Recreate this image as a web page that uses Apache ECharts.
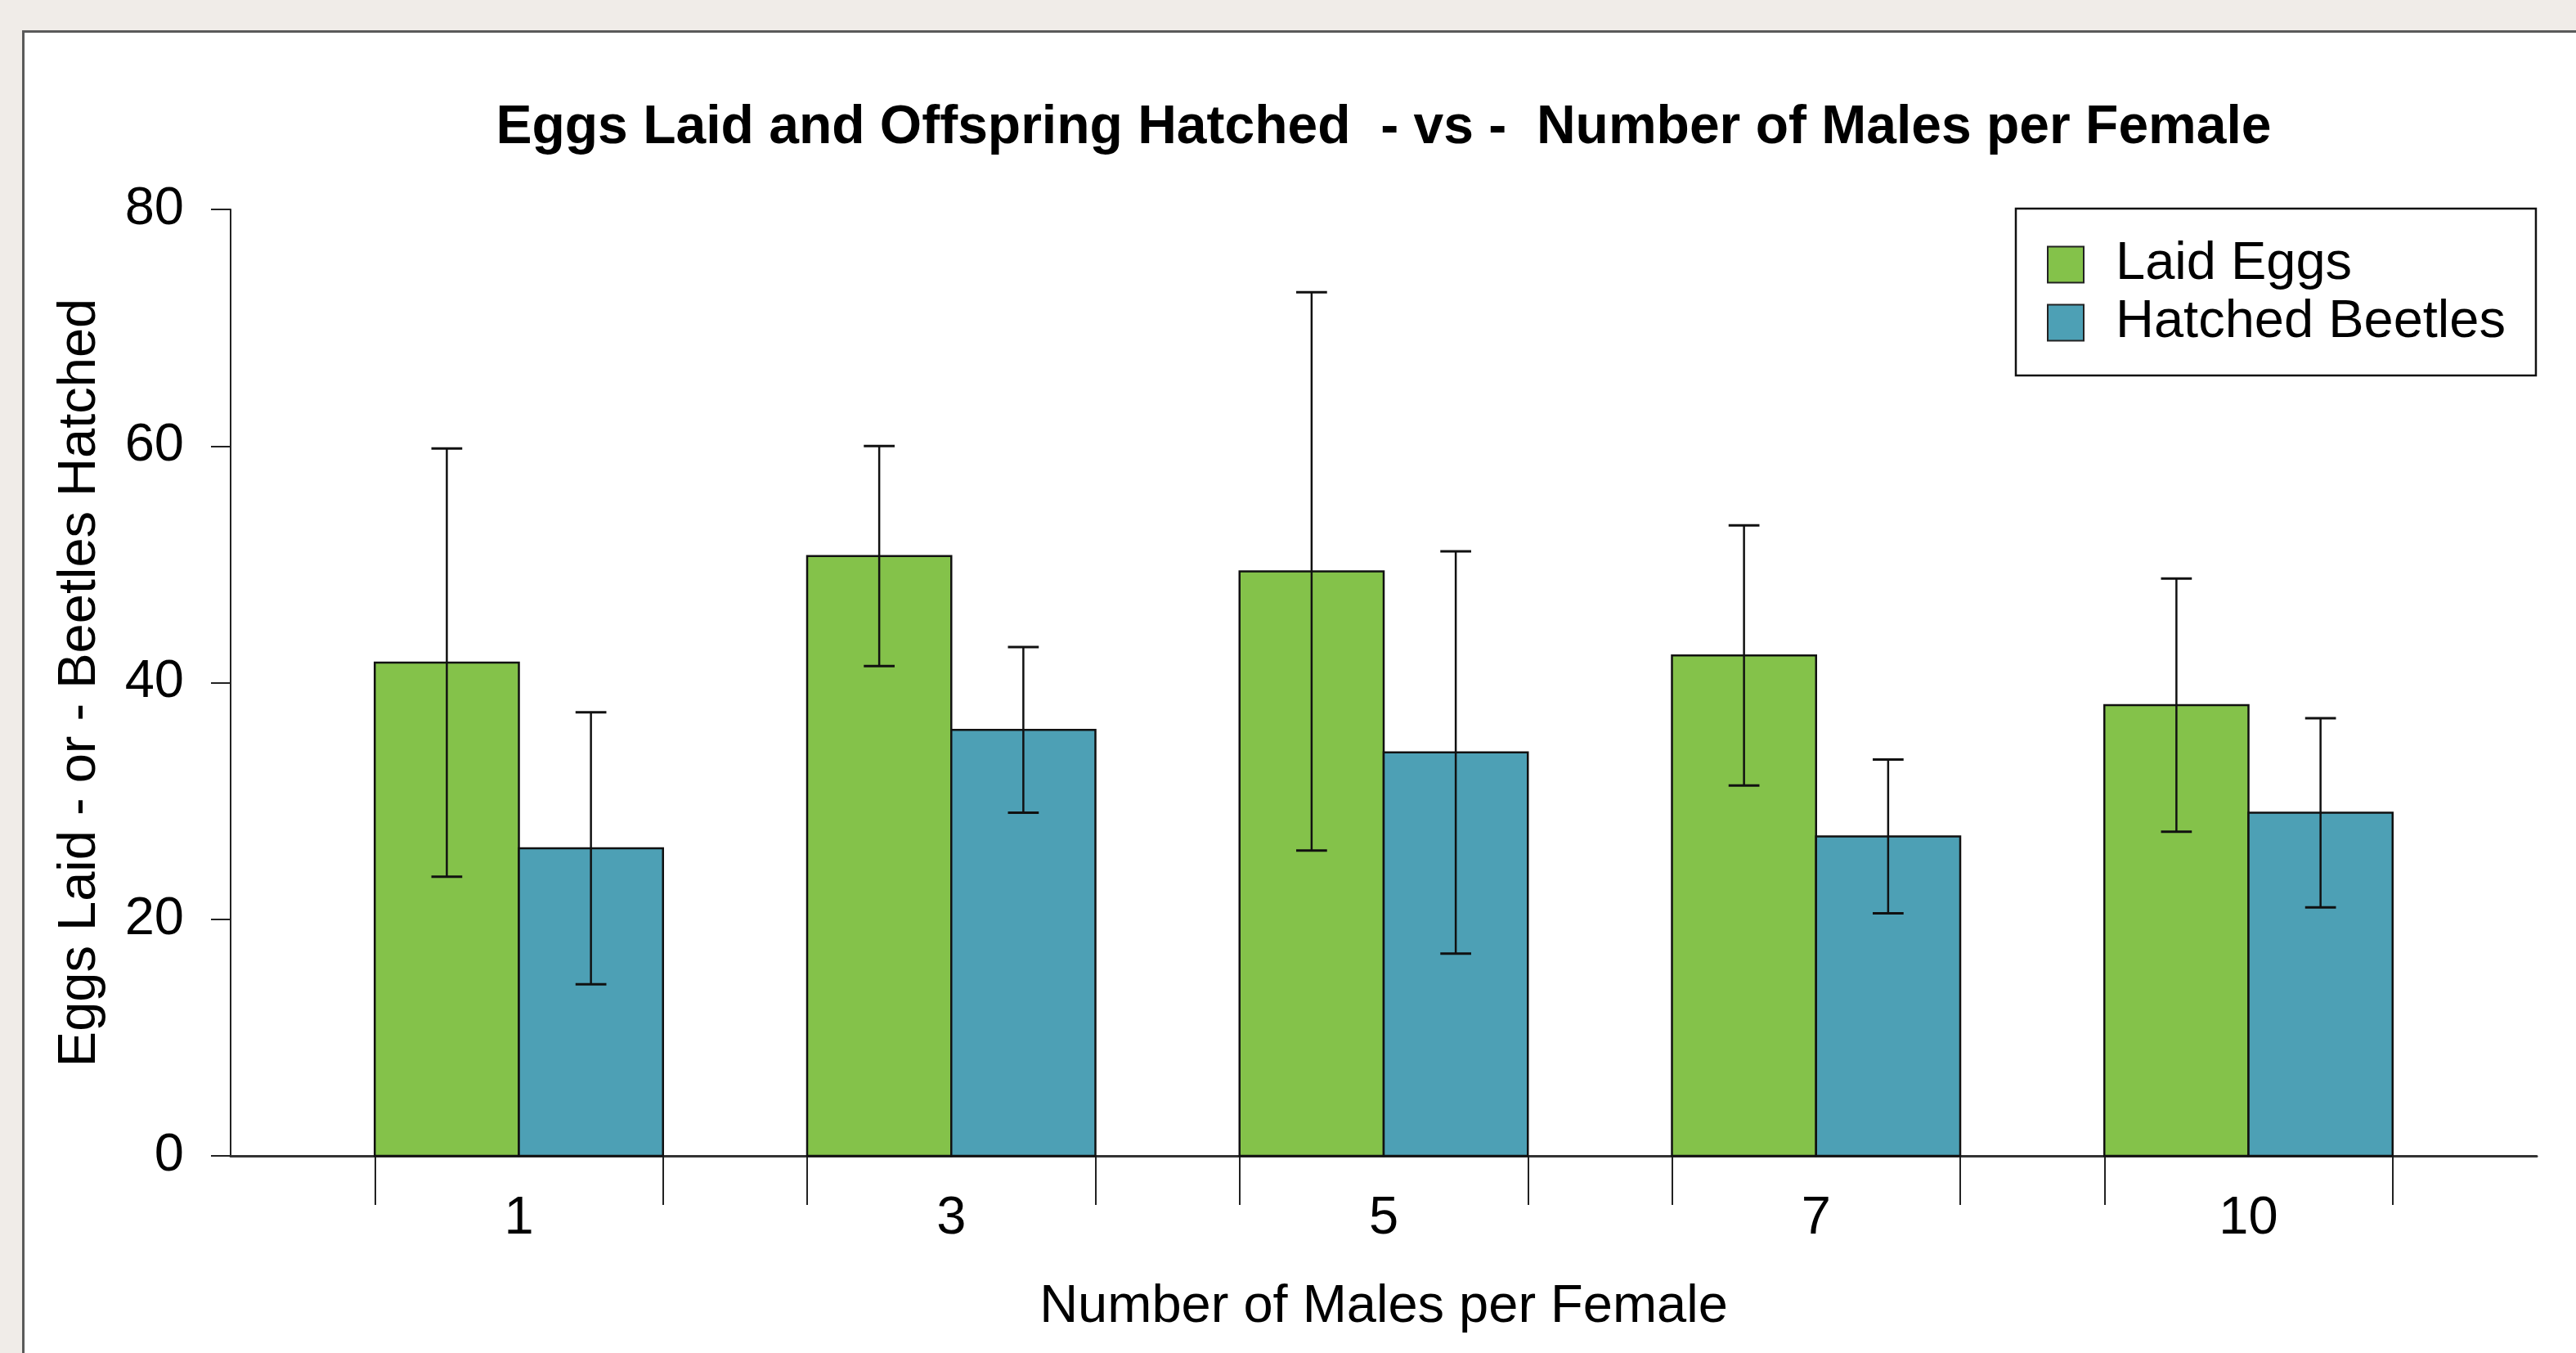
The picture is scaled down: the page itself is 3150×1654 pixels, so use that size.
<!DOCTYPE html>
<html>
<head>
<meta charset="utf-8">
<title>Eggs Laid and Offspring Hatched</title>
<script src="https://cdn.jsdelivr.net/npm/echarts@6/dist/echarts.min.js"></script>
<style>
  html, body { margin: 0; padding: 0; background: #f0ece8; }
  #chart { width: 3150px; height: 1654px; }
</style>
</head>
<body>
<div id="chart"></div>
<script>
// Number of males per female (treatment groups)
const categories = ['1', '3', '5', '7', '10'];
// Mean eggs laid and its standard deviation
const laidEggs = [41.7, 50.7, 49.4, 42.3, 38.1];
const laidEggsSd = [18.1, 9.3, 23.6, 11.0, 10.7];
// Mean beetles hatched and its standard deviation
const hatchedBeetles = [26.0, 36.0, 34.1, 27.0, 29.0];
const hatchedBeetlesSd = [11.5, 7.0, 17.0, 6.5, 8.0];
// Y axis ticks
const yTicks = [0, 20, 40, 60, 80];

const FONT = '"Liberation Sans", Arial, Helvetica, sans-serif';
const GREEN = '#84c24a';
const BLUE = '#4da0b5';
const INK = '#111111';

// Grouped barplot layout: each group is two unit-wide bars preceded by a one-unit gap
const centers = categories.map((c, i) => 3 * i + 2);
const edges = [];
centers.forEach(c => { edges.push(c - 1, c + 1); });

const gridLeft = 282, gridRight = 48, gridTop = 256, gridBottom = 241;
const plotCenterX = (gridLeft + (3150 - gridRight)) / 2;

function barWithError(offset) {
  return function (params, api) {
    const c = api.value(0), v = api.value(1), sd = api.value(2);
    const left = c + offset, right = left + 1, mid = left + 0.5;
    const tl = api.coord([left, v]);
    const br = api.coord([right, 0]);
    const hi = api.coord([mid, v + sd]);
    const lo = api.coord([mid, v - sd]);
    const capHalf = api.size([0.107, 0])[0];
    const fill = api.visual('color');
    return {
      type: 'group',
      children: [
        { type: 'rect', shape: { x: tl[0], y: tl[1], width: br[0] - tl[0], height: br[1] - tl[1] },
          style: { fill: fill, stroke: INK, lineWidth: 2.5 } },
        { type: 'line', shape: { x1: hi[0], y1: hi[1], x2: lo[0], y2: lo[1] },
          style: { stroke: INK, lineWidth: 2.5 } },
        { type: 'line', shape: { x1: hi[0] - capHalf, y1: hi[1], x2: hi[0] + capHalf, y2: hi[1] },
          style: { stroke: INK, lineWidth: 3 } },
        { type: 'line', shape: { x1: lo[0] - capHalf, y1: lo[1], x2: lo[0] + capHalf, y2: lo[1] },
          style: { stroke: INK, lineWidth: 3 } }
      ]
    };
  };
}

const chart = echarts.init(document.getElementById('chart'), null, { renderer: 'canvas' });

chart.setOption({
  animation: false,
  backgroundColor: '#f0ece8',
  textStyle: { fontFamily: FONT },
  graphic: [
    { type: 'rect', z: -10, silent: true,
      shape: { x: 28.5, y: 38.5, width: 3200, height: 1700 },
      style: { fill: '#ffffff', stroke: '#5a5a5a', lineWidth: 3 } }
  ],
  title: {
    text: 'Eggs Laid and Offspring Hatched  - vs -  Number of Males per Female',
    left: plotCenterX, top: 124, textAlign: 'center', padding: 0,
    textStyle: { fontSize: 66, fontWeight: 'bold', color: '#000', fontFamily: FONT }
  },
  legend: {
    orient: 'vertical', left: 2465, top: 255,
    padding: [36, 37, 32, 38],
    itemWidth: 44, itemHeight: 44, itemGap: 6, icon: 'rect',
    selectedMode: false,
    backgroundColor: '#ffffff', borderColor: INK, borderWidth: 2.5, borderRadius: 0,
    itemStyle: { borderColor: '#222', borderWidth: 2 },
    textStyle: { fontSize: 65, color: '#000', fontFamily: FONT, padding: [0, 0, 0, 34] },
    data: ['Laid Eggs', 'Hatched Beetles']
  },
  grid: { left: gridLeft, right: gridRight, top: gridTop, bottom: gridBottom, containLabel: false },
  xAxis: {
    type: 'value', min: 0, max: 16,
    name: 'Number of Males per Female', nameLocation: 'middle', nameGap: 153,
    nameTextStyle: { fontSize: 65, color: '#000', fontFamily: FONT },
    axisLine: { show: true, onZero: false, lineStyle: { color: '#333', width: 3 } },
    axisTick: { show: true, inside: false, length: 60, customValues: edges, lineStyle: { color: '#222', width: 2 } },
    axisLabel: {
      show: true, margin: 45, fontSize: 65, color: '#000', fontFamily: FONT,
      customValues: centers,
      formatter: v => categories[centers.indexOf(v)]
    },
    splitLine: { show: false }
  },
  yAxis: {
    type: 'value', min: yTicks[0], max: yTicks[yTicks.length - 1], interval: yTicks[1] - yTicks[0],
    name: 'Eggs Laid - or - Beetles Hatched', nameLocation: 'middle', nameGap: 151,
    nameTextStyle: { fontSize: 65, color: '#000', fontFamily: FONT },
    axisLine: { show: true, onZero: false, lineStyle: { color: '#222', width: 2 } },
    axisTick: { show: true, inside: false, length: 24, lineStyle: { color: '#222', width: 2 } },
    axisLabel: { margin: 57, fontSize: 65, color: '#000', fontFamily: FONT, padding: [8, 0, 0, 0] },
    splitLine: { show: false }
  },
  series: [
    {
      name: 'Laid Eggs', type: 'custom',
      itemStyle: { color: GREEN },
      renderItem: barWithError(-1),
      encode: { x: 0, y: 1 },
      data: categories.map((c, i) => [centers[i], laidEggs[i], laidEggsSd[i]])
    },
    {
      name: 'Hatched Beetles', type: 'custom',
      itemStyle: { color: BLUE },
      renderItem: barWithError(0),
      encode: { x: 0, y: 1 },
      data: categories.map((c, i) => [centers[i], hatchedBeetles[i], hatchedBeetlesSd[i]])
    }
  ]
});
</script>
</body>
</html>
